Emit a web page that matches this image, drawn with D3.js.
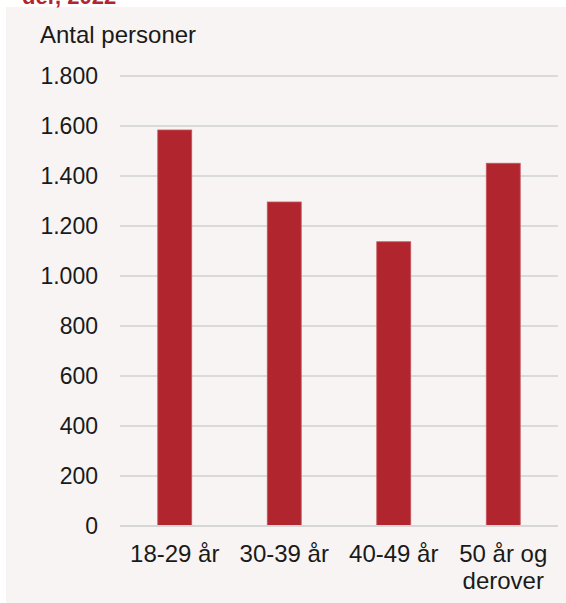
<!DOCTYPE html>
<html>
<head>
<meta charset="utf-8">
<script src="https://cdn.jsdelivr.net/npm/d3@7"></script>
<style>
  html, body { margin: 0; padding: 0; background: #ffffff; }
  svg { display: block; font-family: "Liberation Sans", Arial, sans-serif; }
</style>
</head>
<body>
<svg id="chart" width="566" height="603"></svg>
<script>
// Chart data
const categories = [["18-29 år"], ["30-39 år"], ["40-49 år"], ["50 år og", "derover"]];
const values = [1584, 1296, 1137, 1451];
const yTicks = [0, 200, 400, 600, 800, 1000, 1200, 1400, 1600, 1800];
const yLabel = "Antal personer";
const titleTail = "der, 2022";

const svg = d3.select('#chart');
const width = 566, height = 603;
const barColor = '#b1262e';

// panel background
svg.append('rect').attr('x', 6).attr('y', 7).attr('width', width - 6).attr('height', height - 7).attr('fill', '#f7f4f3');

// cropped title remnant at the very top
svg.append('text').attr('x', 22).attr('y', 3.5)
    .attr('font-size', 22).attr('font-weight', 'bold').attr('fill', '#b1262e')
    .text(titleTail);

const locale = d3.formatLocale({ decimal: ',', thousands: '.', grouping: [3], currency: ['', ''] });
const fmt = locale.format(',d');

const x = d3.scaleBand().domain(d3.range(values.length)).range([120, 558]).paddingInner(0.69).paddingOuter(0.345);
const y = d3.scaleLinear().domain([0, 1800]).range([526, 76]);

// gridlines
svg.append('g').selectAll('line').data(yTicks).enter().append('line')
    .attr('x1', 120).attr('x2', 558)
    .attr('y1', d => y(d)).attr('y2', d => y(d))
    .attr('stroke', '#dadada').attr('stroke-width', 2);

// y tick labels
svg.append('g').selectAll('text').data(yTicks).enter().append('text')
    .attr('x', 98).attr('y', d => y(d)).attr('dy', '0.35em')
    .attr('text-anchor', 'end').attr('font-size', 23).attr('fill', '#1a1a1a')
    .text(d => fmt(d));

svg.append('text').attr('x', 40).attr('y', 43).attr('font-size', 24).attr('fill', '#1a1a1a').text(yLabel);

// bars
svg.append('g').selectAll('rect').data(values).enter().append('rect')
    .attr('x', (d, i) => x(i)).attr('width', x.bandwidth())
    .attr('y', d => y(d)).attr('height', d => y(0) - y(d))
    .attr('fill', barColor).attr('stroke', '#c4565c').attr('stroke-width', 0.8);

// baseline over bars
svg.append('line').attr('x1', 120).attr('x2', 558).attr('y1', y(0)).attr('y2', y(0))
    .attr('stroke', '#d6d6d6').attr('stroke-width', 2);

// x labels
const xl = svg.append('g').selectAll('text').data(categories).enter().append('text')
    .attr('text-anchor', 'middle').attr('font-size', 24).attr('fill', '#1a1a1a');
xl.each(function(lines, i) {
    const t = d3.select(this);
    lines.forEach((s, j) => {
        t.append('tspan').attr('x', x(i) + x.bandwidth() / 2).attr('y', 562 + j * 27).text(s);
    });
});
</script>
</body>
</html>
